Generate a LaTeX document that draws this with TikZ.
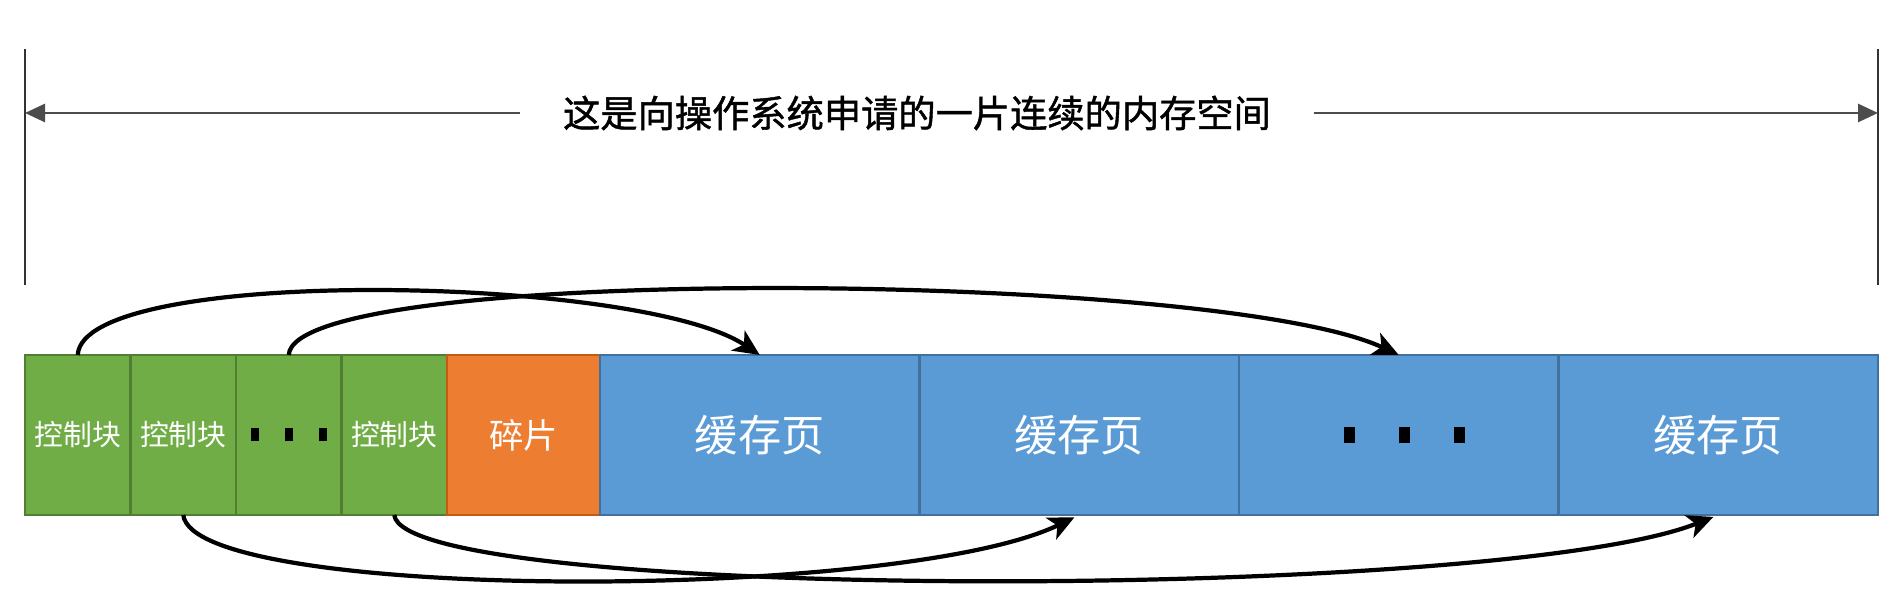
\documentclass[tikz,border=0pt]{standalone}
\usepackage{fontspec}
\newfontfamily\cjk{Noto Sans CJK SC}
\newfontfamily\cjkheavy[FakeBold=1.2]{Noto Sans CJK SC}
\usetikzlibrary{positioning,arrows.meta}
\definecolor{ctrlgreen}{HTML}{70AD47}
\definecolor{ctrledge}{HTML}{507E32}
\definecolor{fragorange}{HTML}{ED7D31}
\definecolor{fragedge}{HTML}{C55A11}
\definecolor{pageblue}{HTML}{5B9BD5}
\definecolor{pageedge}{HTML}{41719C}
\begin{document}
\begin{tikzpicture}[
  cell/.style={minimum height=1.6cm, inner sep=0pt, outer sep=0pt, text=white, line width=0.6pt},
  ctrl/.style={cell, draw=ctrledge, fill=ctrlgreen, minimum width=1.055cm, font=\cjk\fontsize{8.2}{10}\selectfont},
  frag/.style={cell, draw=fragedge, fill=fragorange, minimum width=1.53cm, font=\cjk\fontsize{9.8}{12}\selectfont},
  page/.style={cell, draw=pageedge, fill=pageblue, minimum width=3.195cm, font=\cjk\fontsize{12.3}{14}\selectfont},
  dim/.style={black!70, line width=0.8pt, -{Triangle[length=2mm,width=1.8mm]}},
  link/.style={line width=1.2pt, -{Stealth[length=2.6mm,width=2.4mm,inset=0.7mm]}},
]
\useasboundingbox (0,0) rectangle (19.04,6.10);

% Control blocks
\node[ctrl, anchor=south west] (cb1) at (0.25,0.95) {控制块};
\node[ctrl, right=0pt of cb1] (cb2) {控制块};
\node[ctrl, right=0pt of cb2, text=black] (cb3) {\rule{0.08cm}{0.13cm}\hspace{0.26cm}\rule{0.08cm}{0.13cm}\hspace{0.26cm}\rule{0.08cm}{0.13cm}};
\node[ctrl, right=0pt of cb3] (cb4) {控制块};

% Fragment
\node[frag, right=0pt of cb4] (frag) {碎片};

% Cache pages
\node[page, right=0pt of frag] (cp1) {缓存页};
\node[page, right=0pt of cp1] (cp2) {缓存页};
\node[page, right=0pt of cp2, text=black] (cp3) {\hspace{0.12cm}\rule{0.11cm}{0.16cm}\hspace{0.44cm}\rule{0.11cm}{0.16cm}\hspace{0.44cm}\rule{0.11cm}{0.16cm}};
\node[page, right=0pt of cp3] (cp4) {缓存页};

% Extent of the allocated space
\coordinate (ltop) at (0.25,5.61);
\coordinate (lbot) at (0.25,3.25);
\coordinate (rtop) at (18.78,5.61);
\coordinate (rbot) at (18.78,3.25);
\draw[black!80, line width=0.5pt] (ltop) -- (lbot);
\draw[black!80, line width=0.5pt] (rtop) -- (rbot);
\node[font=\cjkheavy\fontsize{10.6}{13}\selectfont, inner xsep=0.42cm] (title) at (9.17,4.97) {这是向操作系统申请的一片连续的内存空间};
\draw[dim] (title.west) -- (title.west -| ltop);
\draw[dim] (title.east) -- (title.east -| rtop);

% Links above
\draw[link] (cb1.north) .. controls +(0.05,0.9) and +(-1.2,0.8) .. (cp1.north);
\draw[link] (cb3.north) .. controls +(0.05,0.92) and +(-1.8,0.84) .. (cp3.north);

% Links below
\draw[link, shorten >=1.5pt] (cb2.south) .. controls +(0.1,-0.87) and +(-1.8,-0.87) .. (cp2.south);
\draw[link, shorten >=1.5pt] (cb4.south) .. controls +(0.1,-0.87) and +(-2.2,-0.87) .. (cp4.south);
\end{tikzpicture}
\end{document}
